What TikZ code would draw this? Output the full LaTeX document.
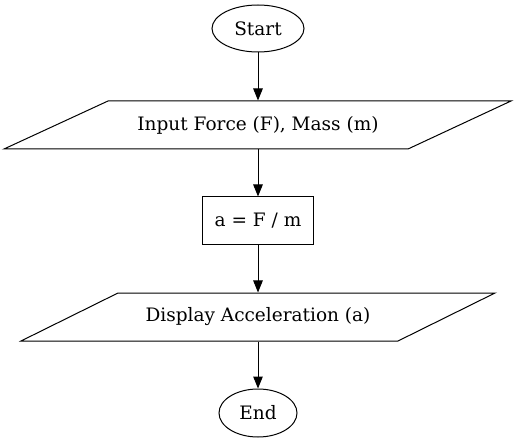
\documentclass[tikz,border=0pt]{standalone}
\usepackage{fontspec}
\setmainfont{DejaVu Serif}
\usetikzlibrary{shapes.geometric,arrows.meta}
\begin{document}
\begin{tikzpicture}[x=1pt,y=-1pt,
  base/.style={font=\fontsize{18.5}{22}\selectfont, inner sep=0pt, line width=1pt},
  term/.style={base, draw, ellipse},
  procbox/.style={base, draw, rectangle},
  iobox/.style={base},
  conn/.style={line width=1pt, -{Triangle[length=12pt,width=9.5pt]}}
]
\useasboundingbox (0,0) rectangle (516,443);
\node[term, minimum width=92pt, minimum height=47pt] (start) at (258,28.5) {Start};
\node[iobox, minimum width=300pt, minimum height=48pt] (in) at (258,125) {Input Force (F), Mass (m)};
\draw[line width=1pt] (108,101) -- (511,101) -- (408,149) -- (4,149) -- cycle;
\node[procbox, minimum width=111pt, minimum height=48pt] (calc) at (258,221) {a = F / m};
\node[iobox, minimum width=280pt, minimum height=48pt] (out) at (258,317) {Display Acceleration (a)};
\draw[line width=1pt] (118,293) -- (495,293) -- (398,341) -- (21,341) -- cycle;
\node[term, minimum width=78pt, minimum height=48pt] (end) at (258,413) {End};
\draw[conn] (start) -- (in);
\draw[conn] (in) -- (calc);
\draw[conn] (calc) -- (out);
\draw[conn] (out) -- (end);
\end{tikzpicture}
\end{document}
